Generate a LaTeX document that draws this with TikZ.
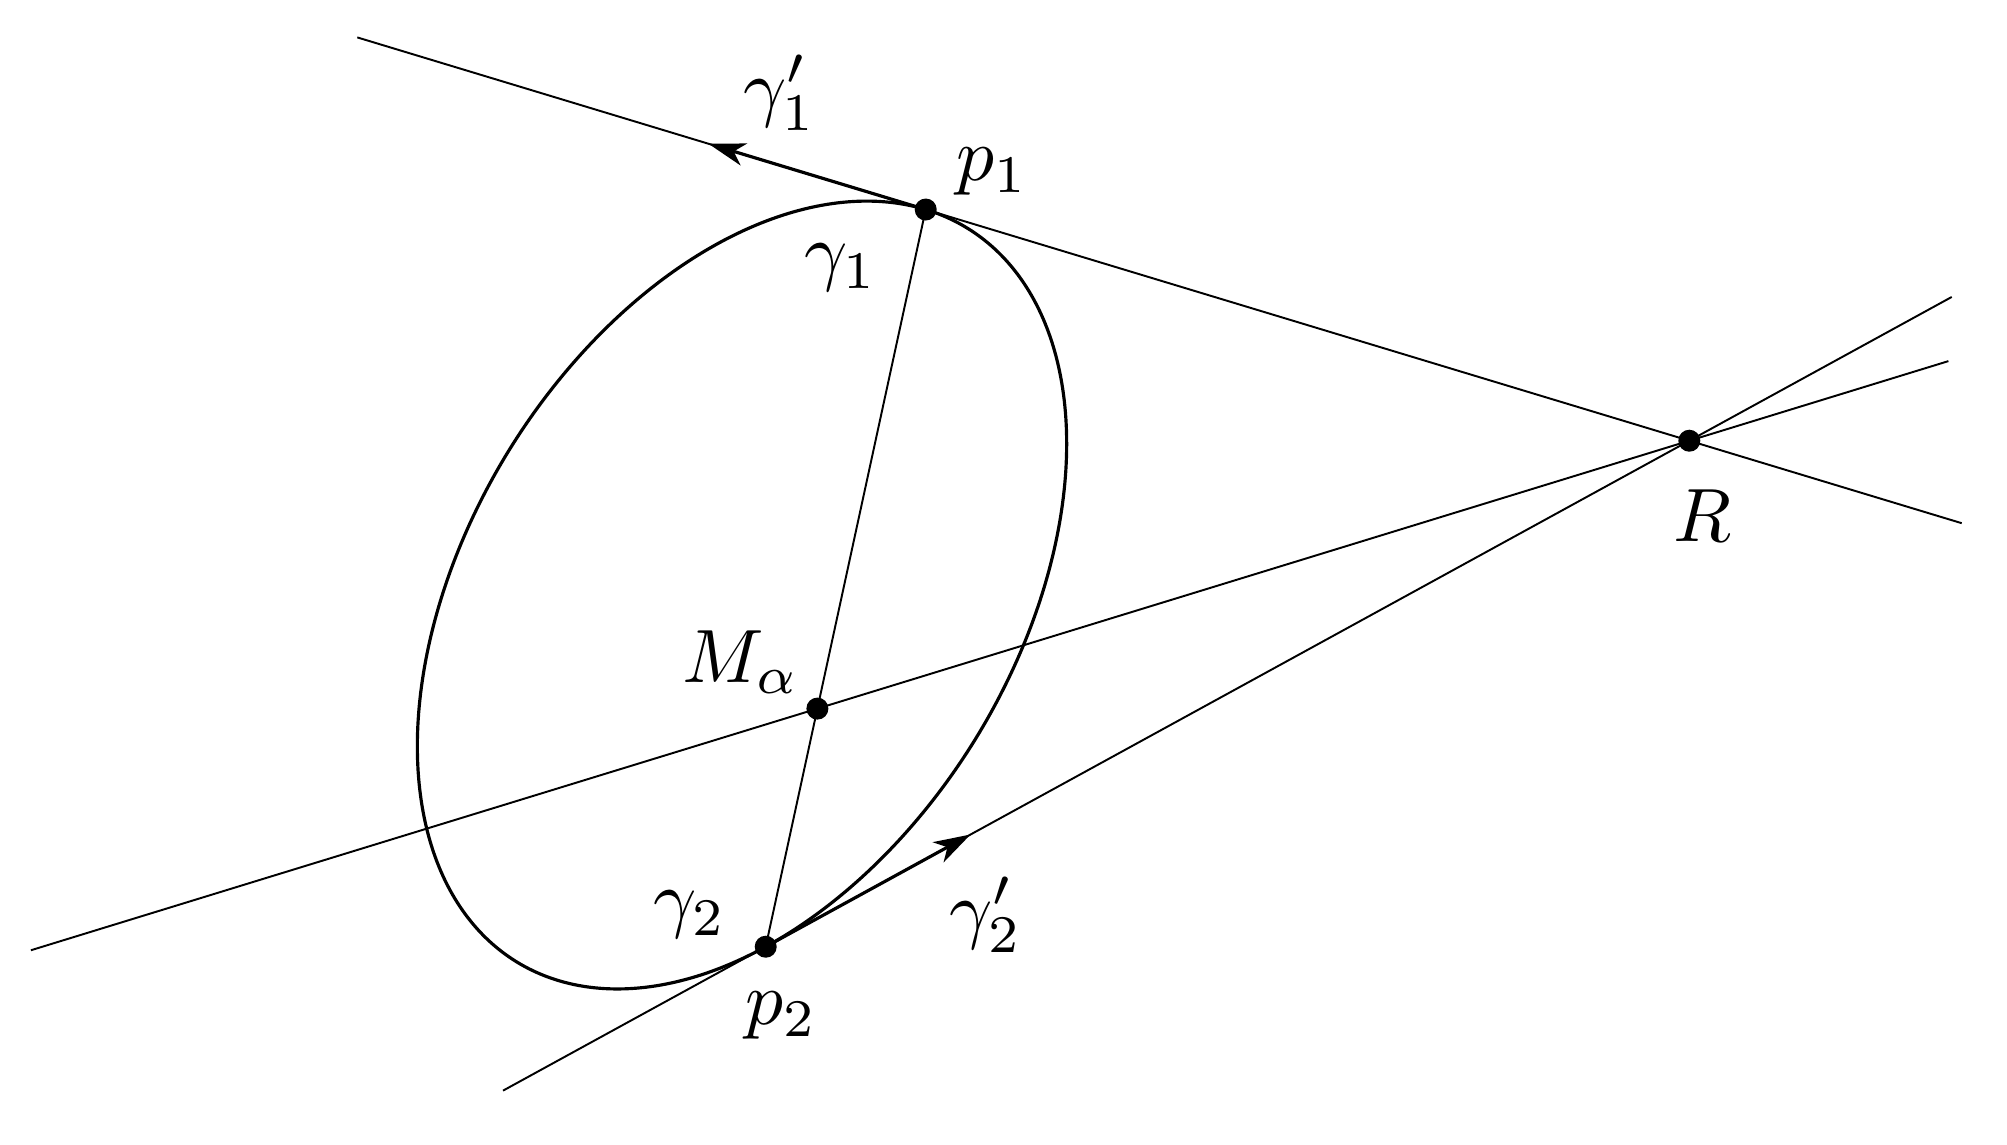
\documentclass[tikz,border=0pt]{standalone}
\usetikzlibrary{calc,arrows.meta}
\begin{document}
\begin{tikzpicture}[x=0.01cm,y=-0.01cm,
  thinline/.style={line width=0.55pt},
  curve/.style={line width=0.9pt,line join=round},
  arrowseg/.style={line width=0.9pt,-{Stealth[length=10.5pt,width=6.5pt,inset=3pt]}},
  dot/.style={circle,fill=black,inner sep=0pt,minimum size=0.22cm},
  lbl/.style={scale=2.15,inner sep=0pt}]
\useasboundingbox (0,0) rectangle (2007,1144);
% key points
\coordinate (p1) at (925.7,209.5);
\coordinate (p2) at (765.7,946.7);
\coordinate (R) at (1689.3,440.7);
\coordinate (M) at ($(p1)!0.677!(p2)$);
% line end points
\coordinate (l1a) at ($(R)!1.7444!(p1)$);
\coordinate (l1b) at ($(R)!-0.3567!(p1)$);
\coordinate (l2a) at ($(R)!1.902!(M)$);
\coordinate (l2b) at ($(R)!-0.2971!(M)$);
\coordinate (l3a) at ($(R)!1.2844!(p2)$);
\coordinate (l3b) at ($(R)!-0.2841!(p2)$);
\coordinate (a1) at ($(p1)!-0.2845!(R)$);
\coordinate (a2) at ($(p2)!0.2218!(R)$);
% ellipse
\draw[curve] plot[domain=0:360,samples=361]
  ({742+313.4*cos(\x)+84.77*sin(\x)},{595-51.08*cos(\x)-390.6*sin(\x)}) -- cycle;
% lines
\draw[thinline] (l1a) -- (l1b);
\draw[thinline] (l2a) -- (l2b);
\draw[thinline] (l3a) -- (l3b);
\draw[thinline] (p1) -- (p2);
% tangent vectors
\draw[arrowseg] (p1) -- (a1);
\draw[arrowseg] (p2) -- (a2);
% dots
\node[dot] (P1) at (p1) {};
\node[dot] (P2) at (p2) {};
\node[dot] (PM) at (M) {};
\node[dot] (PR) at (R) {};
% labels
\node[lbl] (Lg1p) at (780,93) {$\gamma_1'$};
\node[lbl] (Lp1) at (992,172) {$p_1$};
\node[lbl] (Lg1) at (841,268) {$\gamma_1$};
\node[lbl] (LM) at (741,662) {$M_\alpha$};
\node[lbl] (LR) at (1702,516) {$R$};
\node[lbl] (Lg2) at (690,915) {$\gamma_2$};
\node[lbl] (Lp2) at (781,1016) {$p_2$};
\node[lbl] (Lg2p) at (986,915) {$\gamma_2'$};
\end{tikzpicture}
\end{document}
